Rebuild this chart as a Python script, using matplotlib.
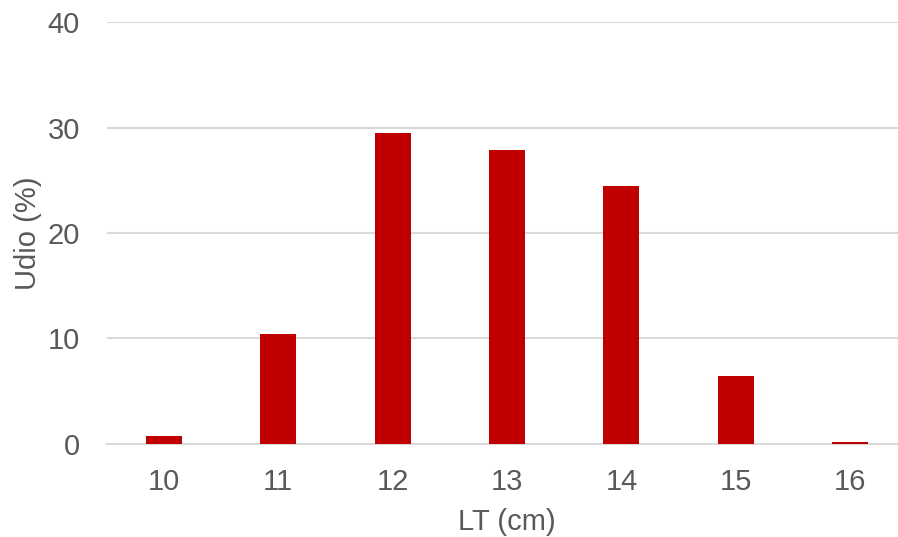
import matplotlib.pyplot as plt
import numpy as np

plt.rcParams['font.family'] = ['Liberation Sans', 'DejaVu Sans']

lt_cm = ["10", "11", "12", "13", "14", "15", "16"]
udio_pct = [0.75, 10.4, 29.5, 27.9, 24.5, 6.4, 0.2]

fig = plt.figure(figsize=(8.98, 5.37), dpi=100)
ax = fig.add_axes([0.1186, 0.1732, 0.892, 0.7858])

x = np.arange(len(lt_cm))
ax.bar(x, udio_pct, width=0.315, color="#c00000", zorder=3)

ax.set_xlim(-0.5, len(lt_cm) - 0.5)
ax.set_ylim(0, 40)
ax.set_yticks([0, 10, 20, 30, 40])
ax.set_xticks(x)
ax.set_xticklabels(lt_cm)
ax.yaxis.grid(True, color="#d9d9d9", linewidth=1.5, zorder=0)
ax.set_axisbelow(True)
for s in ["top", "right", "left"]:
    ax.spines[s].set_visible(False)
ax.spines["bottom"].set_color("#d9d9d9")
ax.spines["bottom"].set_linewidth(1.5)
ax.tick_params(axis="both", length=0, labelsize=21, labelcolor="#595959")
ax.tick_params(axis="x", pad=17)
ax.tick_params(axis="y", pad=19)
ax.set_xlabel("LT (cm)", fontsize=21, color="#595959", labelpad=9)
ax.set_ylabel("Udio (%)", fontsize=21, color="#595959", labelpad=4)

fig.savefig("out.png", dpi=100)
